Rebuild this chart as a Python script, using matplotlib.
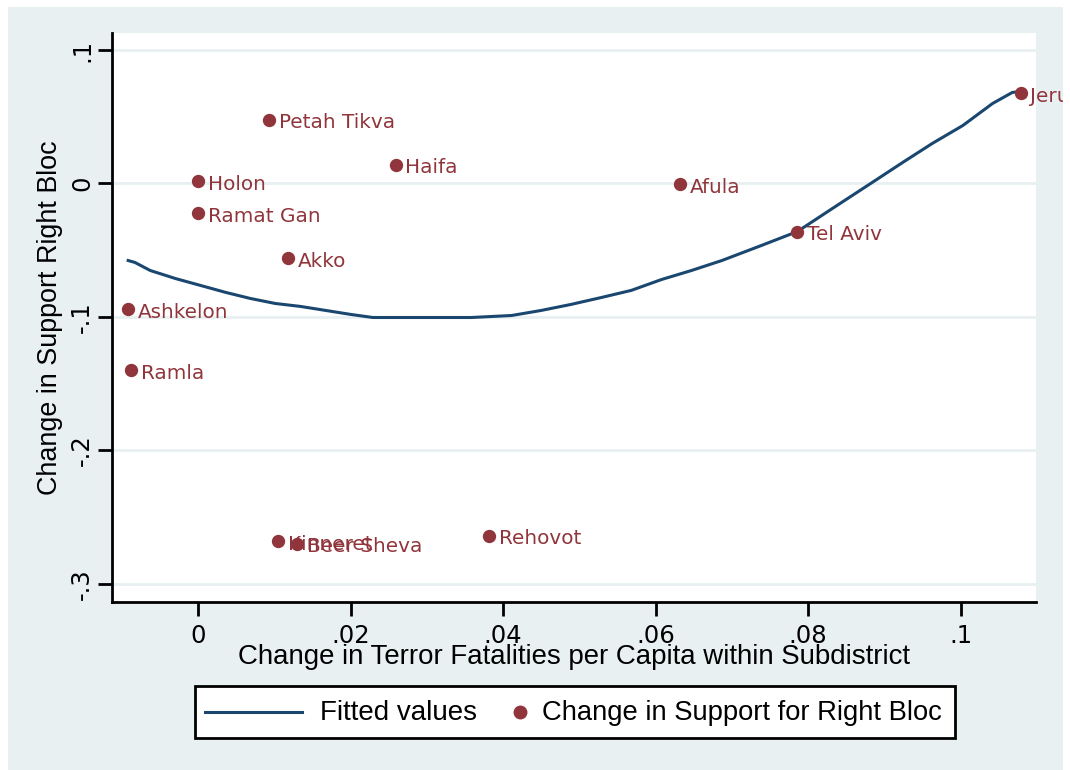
import matplotlib
matplotlib.use("Agg")
import matplotlib.pyplot as plt
from matplotlib.lines import Line2D
from matplotlib.patches import Rectangle

# Data
cities = ["Petah Tikva", "Haifa", "Holon", "Afula", "Ramat Gan", "Akko", "Tel Aviv",
          "Ashkelon", "Ramla", "Kinneret", "Beer Sheva", "Rehovot", "Jerusalem"]
terror_change = [0.0093, 0.0259, 0.0000, 0.0632, 0.0000, 0.0118, 0.0786,
                 -0.0092, -0.0088, 0.0105, 0.0130, 0.0382, 0.1079]
support_change = [0.0479, 0.0142, 0.0015, -0.0007, -0.0225, -0.0562, -0.0360,
                  -0.0944, -0.1400, -0.2680, -0.2697, -0.2637, 0.0674]

fit_x = [-0.0092, -0.0083, -0.0063, -0.0030, 0.0003, 0.0036, 0.0068, 0.0101, 0.0134,
         0.0167, 0.0200, 0.0229, 0.0305, 0.0358, 0.0411, 0.0450, 0.0489, 0.0529,
         0.0568, 0.0608, 0.0647, 0.0687, 0.0739, 0.0786, 0.0832, 0.0884, 0.0924,
         0.0963, 0.1003, 0.1042, 0.1068, 0.1079]
fit_y = [-0.0577, -0.0592, -0.0652, -0.0712, -0.0764, -0.0816, -0.0861, -0.0899, -0.0921,
         -0.0951, -0.0981, -0.1004, -0.1004, -0.1004, -0.0989, -0.0951, -0.0906, -0.0854,
         -0.0801, -0.0719, -0.0652, -0.0577, -0.0464, -0.0360, -0.0187, 0.0007, 0.0157,
         0.0300, 0.0434, 0.0599, 0.0682, 0.0689]

xticks = [0, 0.02, 0.04, 0.06, 0.08, 0.1]
xticklabels = ["0", ".02", ".04", ".06", ".08", ".1"]
yticks = [0.1, 0, -0.1, -0.2, -0.3]
yticklabels = [".1", "0", "-.1", "-.2", "-.3"]
legend_labels = ["Fitted values", "Change in Support for Right Bloc"]

NAVY = "#1a476f"
MAROON = "#90353b"
PANEL = "#e8f0f2"
GRID = "#e8f0f2"

W, H = 1070, 770
fig = plt.figure(figsize=(W / 100, H / 100), dpi=100)
fig.patch.set_facecolor("white")


def fx(px):
    return px / W


def fy(py):
    return 1 - py / H


# outer panel as a background axes
bg = fig.add_axes([fx(8), 0, (1063 - 8) / W, (770 - 7) / H], zorder=0)
bg.set_facecolor(PANEL)
bg.set_xticks([])
bg.set_yticks([])
for s in bg.spines.values():
    s.set_visible(False)

ax = fig.add_axes([fx(112), fy(602), (1036 - 112) / W, (602 - 33) / H], zorder=2)
ax.set_facecolor("white")
ax.set_xlim(-0.01132, 0.1099)
ax.set_ylim(-0.3135, 0.1127)

for s in ["top", "right"]:
    ax.spines[s].set_visible(False)
for s in ["left", "bottom"]:
    ax.spines[s].set_linewidth(2.0)
    ax.spines[s].set_color("black")

ax.set_yticks(yticks)
ax.set_yticklabels(yticklabels, rotation=90, va="center", fontsize=17.5, family="DejaVu Sans")
ax.set_xticks(xticks)
ax.set_xticklabels(xticklabels, fontsize=17.5, family="DejaVu Sans")
ax.tick_params(axis="both", direction="out", length=10, width=2, color="black", pad=6)
ax.tick_params(axis="y", pad=3)

ax.grid(axis="y", color=GRID, linewidth=2)
ax.grid(axis="x", visible=False)
ax.set_axisbelow(True)

ax.plot(fit_x, fit_y, color=NAVY, linewidth=2.2, zorder=3, clip_on=False)
ax.scatter(terror_change, support_change, s=92, color=MAROON, zorder=4, linewidths=0,
           clip_on=False)

for name, x, y in zip(cities, terror_change, support_change):
    t = ax.annotate(name, (x, y), xytext=(7, -2), textcoords="offset points",
                    fontsize=14.4, color=MAROON, va="center", ha="left",
                    family="DejaVu Sans", annotation_clip=False, zorder=5)
    t.set_clip_on(True)
    t.set_clip_box(bg.bbox)

ax.set_xlabel("Change in Terror Fatalities per Capita within Subdistrict",
              fontsize=19.9, family="Liberation Sans", labelpad=-3)
ax.set_ylabel("Change in Support Right Bloc", fontsize=19.4, family="Liberation Sans",
              labelpad=5)

# manual legend
fig.patches.append(Rectangle((fx(195), fy(738)), (955 - 195) / W, (738 - 686) / H,
                             transform=fig.transFigure, facecolor="white",
                             edgecolor="black", linewidth=2, zorder=3))
fig.lines.append(Line2D([fx(205), fx(302)], [fy(712), fy(712)], transform=fig.transFigure,
                        color=NAVY, linewidth=2.2, zorder=4))
fig.lines.append(Line2D([fx(520)], [fy(712)], transform=fig.transFigure, marker="o",
                        markersize=9, color=MAROON, linestyle="none", zorder=4))
fig.text(fx(320), fy(713), legend_labels[0], fontsize=20, family="Liberation Sans",
         va="center", ha="left", zorder=5)
fig.text(fx(542), fy(713), legend_labels[1], fontsize=19.7, family="Liberation Sans",
         va="center", ha="left", zorder=5)

fig.savefig("out.png", dpi=100, facecolor="white")
